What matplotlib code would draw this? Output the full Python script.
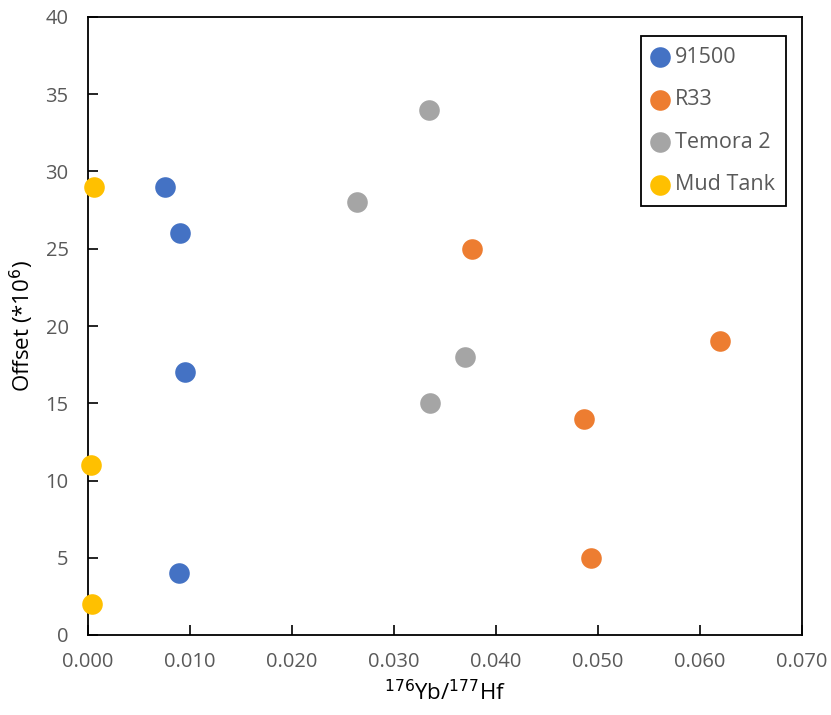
import matplotlib
matplotlib.use("Agg")
import matplotlib.pyplot as plt

plt.rcParams['font.family'] = ['Open Sans', 'DejaVu Sans']

series_names = ["91500", "R33", "Temora 2", "Mud Tank"]
colors = ["#4472C4", "#ED7D31", "#A5A5A5", "#FFC000"]

x_91500 = [0.0075, 0.0090, 0.0095, 0.0089]
y_91500 = [29, 26, 17, 4]
x_r33 = [0.0376, 0.0620, 0.0486, 0.0493]
y_r33 = [25, 19, 14, 5]
x_temora = [0.0334, 0.0264, 0.0370, 0.0335]
y_temora = [34, 28, 18, 15]
x_mud = [0.0006, 0.0003, 0.0004]
y_mud = [29, 11, 2]

xs = [x_91500, x_r33, x_temora, x_mud]
ys = [y_91500, y_r33, y_temora, y_mud]

fig = plt.figure(figsize=(8.31, 7.15), dpi=100)
ax = fig.add_axes([88/831, 1-635/715, (802-88)/831, (635-17)/715])

for name, c, x, y in zip(series_names, colors, xs, ys):
    ax.scatter(x, y, s=220, color=c, label=name, zorder=3, linewidths=0, clip_on=False)

ax.set_xlim(0, 0.07)
ax.set_ylim(0, 40)
ax.set_xticks([i*0.01 for i in range(8)])
ax.set_xticklabels([f"{i*0.01:.3f}" for i in range(8)])
ax.set_yticks(range(0, 41, 5))
ax.tick_params(direction='in', length=7, width=1.2, colors='black', labelcolor='#595959', labelsize=14.5)
ax.tick_params(axis='x', pad=12)
ax.tick_params(axis='y', pad=14)
for sp in ax.spines.values():
    sp.set_linewidth(1.3)
    sp.set_color('black')

ax.set_xlabel(r"$^{176}$Yb/$^{177}$Hf", fontsize=16, labelpad=6)
ax.set_ylabel(r"Offset (*10$^{6}$)", fontsize=16, labelpad=7)

leg = ax.legend(loc='upper right', bbox_to_anchor=(786/831, 1-36/715), bbox_transform=fig.transFigure,
                fontsize=15.5, frameon=True, fancybox=False, edgecolor='black', framealpha=1,
                labelspacing=1.0, handletextpad=0.32, markerscale=1.0, borderpad=0.5,
                borderaxespad=0, handlelength=0.76, labelcolor='#595959')
leg.get_frame().set_linewidth(1.3)

fig.savefig("out.png", dpi=100)
